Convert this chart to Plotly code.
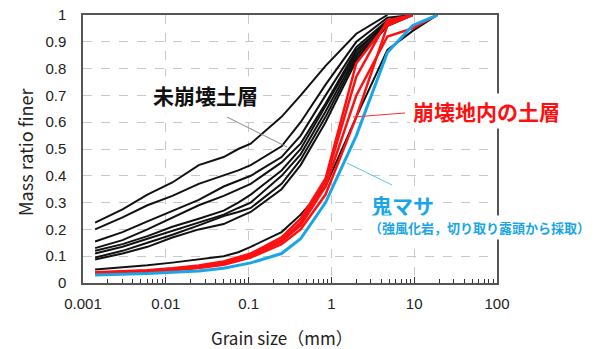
import plotly.graph_objects as go

# Sieve / hydrometer grain sizes (mm)
grain_size = [0.0014, 0.003, 0.006, 0.012, 0.025, 0.05, 0.075, 0.106,
              0.25, 0.425, 0.85, 2.0, 4.75, 9.5, 19.0]

# 未崩壊土層 (black)
black_A = [0.225, 0.275, 0.33, 0.375, 0.44, 0.47, 0.50, 0.52, 0.62, 0.70, 0.81, 0.93, 1.0]
black_B = [0.20, 0.245, 0.29, 0.325, 0.37, 0.40, 0.42, 0.44, 0.51, 0.60, 0.74, 0.90, 0.99, 1.0]
black_C = [0.155, 0.19, 0.23, 0.27, 0.31, 0.36, 0.38, 0.40, 0.47, 0.55, 0.70, 0.88, 0.98, 1.0]
black_D = [0.13, 0.16, 0.20, 0.245, 0.29, 0.325, 0.35, 0.37, 0.45, 0.52, 0.67, 0.87, 0.97, 1.0]
black_E = [0.12, 0.145, 0.175, 0.21, 0.24, 0.27, 0.30, 0.33, 0.42, 0.50, 0.66, 0.86, 0.98, 1.0]
black_F = [0.11, 0.135, 0.165, 0.195, 0.225, 0.255, 0.28, 0.30, 0.40, 0.48, 0.64, 0.85, 0.97, 1.0]
black_G = [0.095, 0.12, 0.15, 0.18, 0.215, 0.25, 0.265, 0.28, 0.37, 0.46, 0.62, 0.84, 0.96, 1.0]
black_H = [0.088, 0.11, 0.135, 0.17, 0.20, 0.22, 0.245, 0.265, 0.35, 0.44, 0.60, 0.83, 0.96, 1.0]
black_I = [0.05, 0.058, 0.066, 0.076, 0.087, 0.10, 0.115, 0.135, 0.19, 0.255, 0.36, 0.62, 0.87, 0.94, 1.0]

# 崩壊地内の土層 (red)
red_1 = [0.040, 0.043, 0.048, 0.055, 0.065, 0.080, 0.095, 0.110, 0.170, 0.240, 0.39, 0.82, 0.97, 1.0]
red_2 = [0.035, 0.038, 0.043, 0.050, 0.060, 0.072, 0.087, 0.100, 0.155, 0.215, 0.36, 0.70, 0.92, 0.95, 1.0]
red_3 = [0.033, 0.036, 0.041, 0.047, 0.056, 0.068, 0.082, 0.095, 0.145, 0.200, 0.33, 0.62, 0.96, 1.0]
red_4 = [0.038, 0.041, 0.046, 0.053, 0.063, 0.076, 0.091, 0.105, 0.160, 0.225, 0.38, 0.77, 0.98, 1.0]

# 鬼マサ (blue)
blue_1 = [0.030, 0.032, 0.035, 0.040, 0.045, 0.055, 0.065, 0.075, 0.110, 0.165, 0.30, 0.55, 0.86, 0.96, 1.0]

black_series = [black_A, black_B, black_C, black_D, black_E, black_F, black_G, black_H, black_I]
red_series = [red_1, red_2, red_3, red_4]
blue_series = [blue_1]

x_tick_vals = [0.001, 0.01, 0.1, 1, 10, 100]
x_tick_text = ["0.001", "0.01", "0.1", "1", "10", "100"]
y_tick_vals = [0, 0.1, 0.2, 0.3, 0.4, 0.5, 0.6, 0.7, 0.8, 0.9, 1]
y_tick_text = ["0", "0.1", "0.2", "0.3", "0.4", "0.5", "0.6", "0.7", "0.8", "0.9", "1"]

fig = go.Figure()
for s in black_series:
    fig.add_trace(go.Scatter(x=grain_size[:len(s)], y=s, mode="lines",
                             line=dict(color="#111111", width=2), showlegend=False))
for s in red_series:
    fig.add_trace(go.Scatter(x=grain_size[:len(s)], y=s, mode="lines",
                             line=dict(color="#ff1010", width=2.5), showlegend=False))
for s in blue_series:
    fig.add_trace(go.Scatter(x=grain_size[:len(s)], y=s, mode="lines",
                             line=dict(color="#19a6e6", width=3), showlegend=False))

L, R, T, B = 83, 497, 15, 283
W, H = 604, 349


def px(xp):
    return (xp - L) / (R - L)


def py(yp):
    return (B - yp) / (B - T)


tick_font = dict(family="Liberation Sans, Arial, sans-serif", size=15, color="#222")
jp = "Noto Sans CJK JP, sans-serif"

fig.update_layout(
    width=W, height=H,
    margin=dict(l=L, r=W - R, t=T, b=H - B, autoexpand=False),
    paper_bgcolor="white", plot_bgcolor="white",
    xaxis=dict(type="log", range=[-3, 2], tickvals=x_tick_vals, ticktext=x_tick_text,
               tickfont=tick_font, ticks="inside", ticklen=6, tickcolor="#333",
               ticklabelstandoff=6, automargin=False,
               showline=True, linecolor="#555", linewidth=1.5, mirror=True,
               showgrid=True, gridcolor="#c8c8c8", griddash="dash", gridwidth=1,
               zeroline=False,
               minor=dict(dtick="D1", ticks="inside", ticklen=4, tickcolor="#333", showgrid=False)),
    yaxis=dict(range=[0, 1], tickvals=y_tick_vals, ticktext=y_tick_text,
               tickfont=tick_font, ticks="", ticklabelstandoff=12, automargin=False,
               showline=True, linecolor="#555", linewidth=1.5, mirror=True,
               showgrid=True, gridcolor="#c8c8c8", griddash="dash", gridwidth=1,
               zeroline=False),
)

# axis titles
fig.add_annotation(xref="paper", yref="paper", x=px(282), y=py(337), xanchor="center", yanchor="middle",
                   text="Grain size（mm）", showarrow=False, borderpad=0,
                   font=dict(family=jp, size=17, color="#222"))
fig.add_annotation(xref="paper", yref="paper", x=px(25), y=py(152), xanchor="center", yanchor="middle",
                   text="Mass ratio finer", textangle=-90, showarrow=False,
                   font=dict(family=jp, size=18, color="#222"))

# leader lines
fig.add_shape(type="line", xref="paper", yref="paper", x0=px(227), y0=py(117), x1=px(287), y1=py(147),
              line=dict(color="#888", width=1), layer="above")
fig.add_shape(type="line", xref="paper", yref="paper", x0=px(353), y0=py(117), x1=px(405), y1=py(113),
              line=dict(color="#ff3030", width=1), layer="above")
fig.add_shape(type="line", xref="paper", yref="paper", x0=px(347), y0=py(163), x1=px(392), y1=py(185),
              line=dict(color="#5cc3f0", width=1), layer="above")

fig.add_annotation(xref="paper", yref="paper", x=px(205), y=py(95), xanchor="center", yanchor="middle",
                   text="未崩壊土層", showarrow=False,
                   font=dict(family=jp, size=21, color="#111", weight=700),
                   bgcolor="white", borderpad=3)
fig.add_annotation(xref="paper", yref="paper", x=px(486), y=py(111), xanchor="center", yanchor="middle",
                   text="崩壊地内の土層", showarrow=False,
                   font=dict(family=jp, size=21, color="#ff1010", weight=700),
                   bgcolor="white", borderpad=2)
fig.add_annotation(xref="paper", yref="paper", x=px(368), y=py(205), xanchor="left", yanchor="middle",
                   text="鬼マサ", showarrow=False,
                   font=dict(family=jp, size=21, color="#19a6e6", weight=700),
                   bgcolor="white", borderpad=2)
fig.add_annotation(xref="paper", yref="paper", x=px(366), y=py(227), xanchor="left", yanchor="middle",
                   text="（強風化岩，切り取り露頭から採取）", showarrow=False,
                   font=dict(family=jp, size=13, color="#19a6e6", weight=700),
                   bgcolor="white", borderpad=2)

fig.write_html("out.html", config={"displayModeBar": False},
               post_script="document.body.style.margin='0px';")
